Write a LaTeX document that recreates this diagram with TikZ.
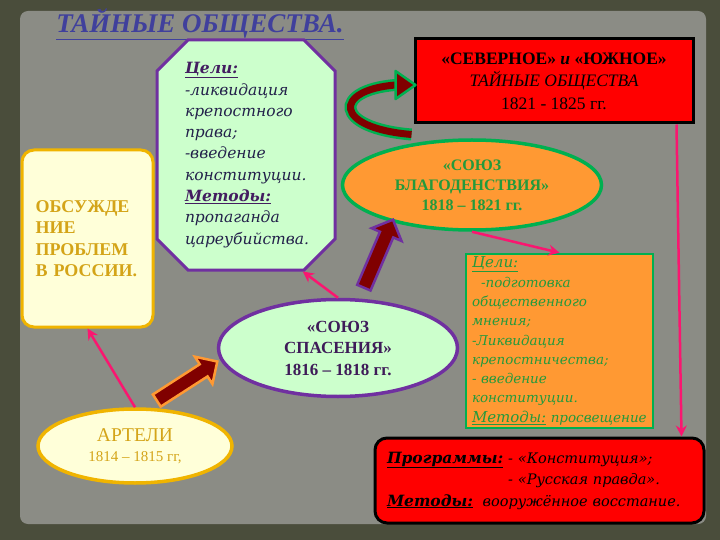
\documentclass[tikz,border=0pt]{standalone}
\usepackage{fontspec}
\setmainfont{Liberation Serif}
\newfontfamily\slfont{DejaVu Serif}
\usepackage{tikz}
\usetikzlibrary{shapes, shapes.misc, shapes.arrows, arrows.meta, calc, positioning}

\definecolor{frame}{HTML}{4A4D3B}
\definecolor{paper}{HTML}{8B8C85}
\definecolor{titleblue}{HTML}{40409C}
\definecolor{lyellow}{HTML}{FFFFD9}
\definecolor{gold}{HTML}{F0B400}
\definecolor{goldtext}{HTML}{D4A418}
\definecolor{lgreen}{HTML}{CCFFCC}
\definecolor{violet}{HTML}{7030A0}
\definecolor{inkblue}{HTML}{22204A}
\definecolor{orange}{HTML}{FF9933}
\definecolor{grn}{HTML}{00B050}
\definecolor{grntext}{HTML}{249A3C}
\definecolor{darkred}{HTML}{800000}
\definecolor{pinkline}{HTML}{FA1670}

\begin{document}
\begin{tikzpicture}[x=1pt, y=-1pt,
        box/.style={
                line width=3pt,
                inner sep=0pt,
        },
        oval/.style={
                ellipse,
                line width=3.5pt,
                inner sep=0pt,
                align=center,
        },
        link/.style={
                draw=pinkline,
                line width=2.5pt,
                -{Stealth[length=11pt, width=11pt]},
        },
        fat/.style={
                single arrow,
                single arrow head extend=9pt,
                inner xsep=0pt,
                inner ysep=6pt,
                line width=2.5pt,
                fill=darkred,
        }]
    \useasboundingbox (0,0) rectangle (720,540);
    % background
    \fill[frame] (0,0) rectangle (720,540);
    \fill[paper, rounded corners=8pt] (20,11) rectangle (706,524);

    \node[text=titleblue, font=\fontsize{27}{30}\selectfont\bfseries\itshape] (title) at (200,24) {\underline{ТАЙНЫЕ ОБЩЕСТВА.}};

    % left column
    \node[box, draw=gold, fill=lyellow, rounded corners=12pt, minimum width=131pt, minimum height=177pt,
          text=goldtext, text width=104pt, align=left, font=\fontsize{18}{21.5}\selectfont\bfseries] (obs) at (87.5,238.5)
          {ОБСУЖДЕ\\НИЕ\\ПРОБЛЕМ\\В РОССИИ.};
    \node[oval, draw=gold, fill=lyellow, minimum width=194pt, minimum height=74pt, text=goldtext,
          font=\fontsize{15}{20.5}\selectfont] (artel) at (135,446)
          {{\fontsize{19.5}{20.5}\selectfont АРТЕЛИ}\\1814 – 1815 гг,};

    % goals of the first union
    \node[chamfered rectangle, chamfered rectangle xsep=28pt, box, draw=violet, fill=lgreen,
          minimum width=178pt, minimum height=230pt, text=inkblue, text width=122pt, align=left,
          font=\slfont\itshape\fontsize{15.5}{21.3}\selectfont] (goals) at (246,155)
          {\textcolor{violet!60!black}{\textbf{\underline{Цели:}}}\\-ликвидация\\крепостного\\права;\\-введение\\конституции.\\
           \textcolor{violet!60!black}{\textbf{\underline{Методы:}}}\\пропаганда\\цареубийства.};
    \node[oval, draw=violet, fill=lgreen, minimum width=239pt, minimum height=97pt, text=violet!55!black,
          font=\fontsize{17}{21.5}\selectfont\bfseries] (spas) at (338,348)
          {«СОЮЗ\\СПАСЕНИЯ»\\1816 – 1818 гг.};

    % right column
    \node[box, draw=black, fill=red, minimum width=278pt, minimum height=84pt, align=center,
          font=\fontsize{17.5}{22.5}\selectfont] (sev) at (554,81)
          {\textbf{«СЕВЕРНОЕ» \textit{и} «ЮЖНОЕ»}\\\textit{ТАЙНЫЕ ОБЩЕСТВА}\\1821 - 1825 гг.};
    \node[oval, draw=grn, fill=orange, minimum width=259pt, minimum height=90pt, text=grntext,
          font=\fontsize{16}{20}\selectfont\bfseries] (blag) at (472,185)
          {«СОЮЗ\\БЛАГОДЕНСТВИЯ»\\1818 – 1821 гг.};
    \node[box, line width=2.5pt, draw=grn, fill=orange, minimum width=187pt, minimum height=174pt,
          text=grntext, text width=175pt, align=left, font=\slfont\itshape\fontsize{13.5}{19.3}\selectfont] (zad) at (559.5,341)
          {{\fontsize{15}{19}\selectfont\underline{Цели:}}\\
           \hspace*{9pt}-подготовка\\общественного\\мнения;\\-Ликвидация\\крепостничества;\\- введение\\конституции.\\
           {\fontsize{15}{19}\selectfont\underline{Методы:}} просвещение};
    \node[box, draw=black, fill=red, rounded corners=12pt, minimum width=329pt, minimum height=85pt,
          text width=305pt, align=left, font=\slfont\itshape\fontsize{14.5}{21.5}\selectfont] (prog) at (539.5,480.5)
          {{\fontsize{15.5}{21.5}\selectfont\textbf{\underline{Программы:}}} - «Конституция»;\\
           \phantom{\fontsize{15.5}{21.5}\selectfont\textbf{Программы:}} - «Русская правда».\\
           {\fontsize{15.5}{21.5}\selectfont\textbf{\underline{Методы:}}}\ \ вооружённое восстание.};

    % thin links
    \draw[link] (artel.north) -- (obs.south);
    \draw[link] (spas.north) -- (goals.-64);
    \draw[link] (blag.south) -- (zad.north);
    \draw[link] ($(sev.south east)+(-18,0)$) -- ($(prog.north east)+(-24,0)$);

    % thick arrows
    \coordinate (a1) at (153,403);
    \coordinate (a2) at (215,363);
    \coordinate (b1) at (362,292);
    \coordinate (b2) at (392,222);
    \path (a1) -- (a2) node[midway, sloped, fat, draw=orange, minimum height=72pt] (ar1) {};
    \path (b1) -- (b2) node[midway, sloped, fat, draw=violet, minimum height=74pt] (ar2) {};

    % curved arrow to the northern and southern societies
    \coordinate (kt) at ($(sev.south west)+(-2,10)$);
    \coordinate (kh) at ($(sev.west)+(-18,4)$);
    \draw[grn, line width=2.5pt, double=darkred, double distance=7pt] (kt) .. controls (333,128) and (333,90) .. (kh);
    \filldraw[draw=grn, fill=darkred, line width=2.5pt, line join=round]
        ($(kh)+(0,-14)$) -- ($(kh)+(20,0)$) -- ($(kh)+(0,14)$) -- cycle;
\end{tikzpicture}
\end{document}
